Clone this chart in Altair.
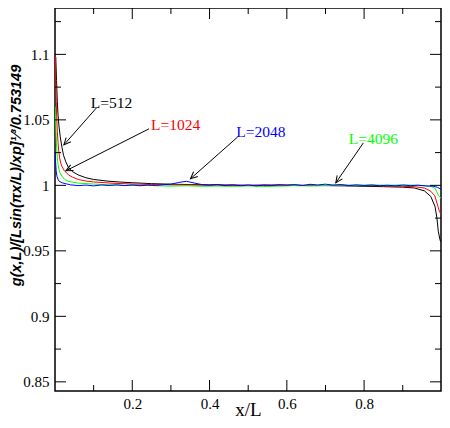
import math
import altair as alt
import pandas as pd

# ---------------- data ----------------
black_x = [0.002, 0.004, 0.006, 0.008, 0.010, 0.0136, 0.018, 0.022, 0.028, 0.035, 0.045, 0.06, 0.08,
           0.10, 0.137, 0.17, 0.20, 0.25, 0.30, 0.35, 0.40, 0.45, 0.50, 0.55, 0.60, 0.65, 0.70,
           0.75, 0.80, 0.85, 0.90, 0.93, 0.956, 0.9726, 0.9834, 0.9885, 0.992, 0.996, 0.998]
black_y = [1.098, 1.080, 1.064, 1.053, 1.046, 1.037, 1.029, 1.023, 1.018, 1.0135, 1.0105, 1.008, 1.0058,
           1.0045, 1.0032, 1.0025, 1.002, 1.0013, 1.0009, 1.0006, 1.0004, 1.0002, 1.0001, 1.0002, 1.0, 0.9999, 0.9998,
           0.9996, 0.9993, 0.999, 0.9986, 0.998, 0.9958, 0.9915, 0.984, 0.975, 0.965, 0.959, 0.957]

red_x = [0.001, 0.002, 0.003, 0.0043, 0.006, 0.0078, 0.0094, 0.012, 0.015, 0.018, 0.024, 0.035, 0.045,
         0.06, 0.08, 0.10, 0.15, 0.20, 0.25, 0.30, 0.35, 0.40, 0.45, 0.50, 0.55, 0.60, 0.65, 0.70,
         0.75, 0.80, 0.85, 0.90, 0.93, 0.956, 0.9726, 0.983, 0.987, 0.991, 0.995, 0.999]
red_y = [1.098, 1.080, 1.066, 1.053, 1.041, 1.033, 1.027, 1.021, 1.017, 1.0144, 1.0113, 1.008, 1.0063,
         1.0045, 1.0033, 1.0026, 1.0016, 1.001, 1.0007, 1.0004, 1.0003, 1.0, 1.0002, 0.9999, 1.0001, 1.0003, 1.0, 0.9999,
         1.0001, 0.9998, 0.9996, 0.9993, 0.999, 0.998, 0.9955, 0.992, 0.988, 0.984, 0.980, 0.978]

green_x = [0.0005, 0.0015, 0.0026, 0.0035, 0.005, 0.007, 0.0094, 0.013, 0.018, 0.025, 0.035, 0.06, 0.10,
           0.14, 0.18, 0.22, 0.26, 0.30, 0.34, 0.38, 0.42, 0.46, 0.50, 0.54, 0.58, 0.62, 0.66, 0.70,
           0.74, 0.78, 0.82, 0.86, 0.90, 0.94, 0.972, 0.983, 0.9885, 0.993, 0.9998]
green_y = [1.060, 1.050, 1.040, 1.033, 1.025, 1.018, 1.013, 1.0095, 1.007, 1.0045, 1.003, 1.0017, 1.001,
           1.0004, 0.9999, 1.0001, 0.9997, 0.9994, 0.9997, 0.9993, 0.9995, 0.9992, 0.9996, 0.9991, 0.9994, 0.9998, 0.9995, 0.9999,
           1.0002, 1.0, 1.0003, 1.0001, 1.0003, 1.0001, 0.9993, 0.998, 0.995, 0.992, 0.990]

blue_x = [0.0005, 0.0017, 0.003, 0.005, 0.008, 0.011, 0.02, 0.03, 0.04, 0.06, 0.08, 0.10, 0.12, 0.14,
          0.16, 0.18, 0.20, 0.22, 0.24, 0.26, 0.28, 0.30, 0.32, 0.34, 0.36, 0.38, 0.40, 0.42, 0.44,
          0.46, 0.48, 0.50, 0.52, 0.54, 0.56, 0.58, 0.60, 0.62, 0.64, 0.66, 0.68, 0.70, 0.72, 0.74,
          0.76, 0.78, 0.80, 0.82, 0.84, 0.86, 0.88, 0.90, 0.92, 0.94, 0.96, 0.98, 0.99, 0.9995]
blue_y = [1.025, 1.017, 1.011, 1.007, 1.0045, 1.003, 1.0018, 1.0011, 1.0004, 0.9998, 1.0002, 0.9996, 1.0003, 0.9999,
          1.0004, 0.9998, 1.0003, 0.9997, 1.0002, 0.9999, 1.0005, 1.0009, 1.0022, 1.0031, 1.0018, 1.0006, 1.0001, 1.0007, 0.9998,
          1.0004, 0.9997, 1.0003, 0.9996, 1.0002, 0.9999, 1.0005, 1.0001, 1.0006, 0.9999, 1.0008, 1.0003, 1.0009, 1.0002, 1.0006,
          0.9998, 1.0004, 0.9999, 1.0003, 0.9997, 1.0001, 0.9996, 1.0002, 0.9998, 1.0001, 0.9996, 0.9993, 0.9985, 0.997]

series_colors = ["#000000", "#ff0000", "#00ff00", "#0000ff"]

# annotations (data coordinates)
ann_text = ["L=512", "L=1024", "L=2048", "L=4096"]
ann_color = ["#000000", "#ff0000", "#0000ff", "#00ff00"]
ann_tx = [0.146, 0.312, 0.533, 0.824]
ann_ty = [1.0629, 1.0464, 1.0405, 1.0355]
arr_x0 = [0.1075, 0.243, 0.473, 0.798]
arr_y0 = [1.0592, 1.0431, 1.037, 1.0324]
arr_x1 = [0.0230, 0.0281, 0.3506, 0.7267]
arr_y1 = [1.0309, 1.0111, 1.005, 1.0019]

# ticks
y_major = [0.85, 0.9, 0.95, 1.0, 1.05, 1.1]
y_minor = [0.875, 0.925, 0.975, 1.025, 1.075, 1.125]
x_major = [0.2, 0.4, 0.6, 0.8]
x_minor = [0.1, 0.3, 0.5, 0.7, 0.9]

XDOM = [0.0, 0.999]
YDOM = [0.843, 1.1354]
W, H = 386, 383
MAJ, MIN = 11, 6
SERIF = "Liberation Serif"

xs = alt.Scale(domain=XDOM, nice=False, zero=False)
ys = alt.Scale(domain=YDOM, nice=False, zero=False)

x_axis = alt.Axis(values=x_major, format=".1f", ticks=False, domain=False, grid=False,
                  labelFont=SERIF, labelFontSize=15, labelColor="#000000", labelPadding=5,
                  title="x/L", titleFont=SERIF, titleFontSize=19, titleFontWeight="normal",
                  titleColor="#000000", titleX=W / 2, titleY=24, titleBaseline="alphabetic", titleAlign="center")
y_axis = alt.Axis(values=y_major, format=".2~f", ticks=False, domain=False, grid=False,
                  labelFont=SERIF, labelFontSize=15, labelColor="#000000", labelPadding=6,
                  title="g(x,L)/[Lsin(\u03c0x/L)/xp]\u00b9\u2044\u00b3/0.753149",
                  titleFont="Liberation Sans", titleFontSize=14.5, titleFontWeight="bold",
                  titleFontStyle="italic", titleColor="#000000", titleAngle=270,
                  titleX=-39, titleY=167, titleAlign="center", titleBaseline="middle")


def line_layer(xv, yv, color, with_axes=False):
    df = pd.DataFrame({"x": xv, "y": yv})
    if with_axes:
        xe = alt.X("x:Q", scale=xs, axis=x_axis)
        ye = alt.Y("y:Q", scale=ys, axis=y_axis)
    else:
        xe = alt.X("x:Q", scale=xs)
        ye = alt.Y("y:Q", scale=ys)
    return alt.Chart(df).mark_line(color=color, strokeWidth=1, clip=True).encode(
        x=xe, y=ye, order=alt.Order("x:Q"))


layers = [
    line_layer(black_x, black_y, series_colors[0], True),
    line_layer(red_x, red_y, series_colors[1]),
    line_layer(green_x, green_y, series_colors[2]),
    line_layer(blue_x, blue_y, series_colors[3]),
]


# ticks inward on all four sides
def yticks(vals, length):
    df = pd.DataFrame({"v": vals})
    left = alt.Chart(df).mark_rule(color="black", strokeWidth=1).encode(
        y=alt.Y("v:Q", scale=ys), x=alt.value(0), x2=alt.value(length))
    right = alt.Chart(df).mark_rule(color="black", strokeWidth=1).encode(
        y=alt.Y("v:Q", scale=ys), x=alt.value(W - length), x2=alt.value(W))
    return [left, right]


def xticks(vals, length):
    df = pd.DataFrame({"v": vals})
    bottom = alt.Chart(df).mark_rule(color="black", strokeWidth=1).encode(
        x=alt.X("v:Q", scale=xs), y=alt.value(H), y2=alt.value(H - length))
    top = alt.Chart(df).mark_rule(color="black", strokeWidth=1).encode(
        x=alt.X("v:Q", scale=xs), y=alt.value(0), y2=alt.value(length))
    return [bottom, top]


layers += yticks(y_major, MAJ) + yticks(y_minor, MIN) + xticks(x_major, MAJ) + xticks(x_minor, MIN)

# annotations
px_per_x = W / (XDOM[1] - XDOM[0])
px_per_y = H / (YDOM[1] - YDOM[0])
angles = []
for a, b, c, d in zip(arr_x0, arr_y0, arr_x1, arr_y1):
    dx = (c - a) * px_per_x
    dy = -(d - b) * px_per_y
    angles.append(math.degrees(math.atan2(dy, dx)) % 360)

ann_df = pd.DataFrame({"t": ann_text, "c": ann_color, "tx": ann_tx, "ty": ann_ty,
                       "x0": arr_x0, "y0": arr_y0, "x1": arr_x1, "y1": arr_y1, "ang": angles})

arrows = alt.Chart(ann_df).mark_rule(color="black", strokeWidth=1).encode(
    x=alt.X("x0:Q", scale=xs), y=alt.Y("y0:Q", scale=ys),
    x2="x1:Q", y2="y1:Q")
heads = alt.Chart(ann_df).mark_point(shape="M-1,-0.45L0,0L-1,0.45", filled=False, color="black",
                                     strokeWidth=1, size=196, opacity=1).encode(
    x=alt.X("x1:Q", scale=xs), y=alt.Y("y1:Q", scale=ys),
    angle=alt.Angle("ang:Q", scale=None))
labels = alt.Chart(ann_df).mark_text(font=SERIF, fontSize=15.5, align="center",
                                     baseline="middle").encode(
    x=alt.X("tx:Q", scale=xs), y=alt.Y("ty:Q", scale=ys),
    text="t:N", color=alt.Color("c:N", scale=None))

layers += [arrows, heads, labels]

chart = alt.layer(*layers).properties(
    width=W, height=H,
    autosize=alt.AutoSizeParams(type="none"),
    padding={"left": 47, "top": 0, "right": 1, "bottom": 29},
    background="white",
).configure_view(stroke="black", strokeWidth=1.5).configure_axis(
    labelFont=SERIF, labelFontSize=15, labelColor="#000000"
)

chart.save("out.html", embed_options={"renderer": "svg", "actions": False})
